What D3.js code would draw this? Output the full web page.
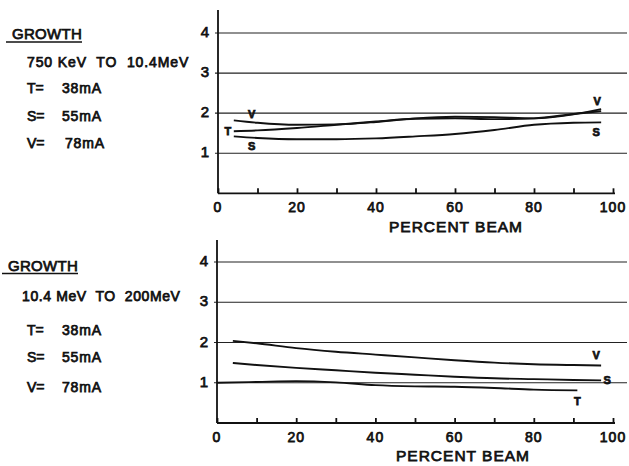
<!DOCTYPE html>
<html>
<head>
<meta charset="utf-8">
<script src="https://cdn.jsdelivr.net/npm/d3@7"></script>
<style>
    body { margin: 0; background: #ffffff; }
    svg { display: block; font-family: "Liberation Sans", Arial, sans-serif; }
    .lbl { fill: #111; stroke: #111; stroke-width: 0.75px; white-space: pre; }
    .grid { stroke: #222; stroke-width: 1.2px; }
    .axis path, .axis line { stroke: #111; stroke-width: 1.8px; }
    .curve { fill: none; stroke: #111; stroke-width: 1.9px; }
</style>
</head>
<body>
<script>
(function () {
    // Percent beam sample points
    var beamTop = [4, 10, 20, 30, 40, 50, 60, 70, 80, 90, 97];
    var beamBottom = [4, 10, 20, 30, 40, 50, 60, 70, 80, 90, 97];
    var beamBottomT = [0, 10, 20, 30, 40, 50, 60, 70, 80, 91];

    // Growth, 750 KeV to 10.4 MeV
    var topV = [1.82, 1.76, 1.71, 1.72, 1.78, 1.87, 1.91, 1.90, 1.87, 1.97, 2.10];
    var topT = [1.55, 1.57, 1.63, 1.71, 1.79, 1.86, 1.87, 1.85, 1.87, 1.98, 2.05];
    var topS = [1.42, 1.38, 1.35, 1.35, 1.37, 1.42, 1.48, 1.58, 1.71, 1.76, 1.77];

    // Growth, 10.4 MeV to 200 MeV
    var bottomV = [2.04, 1.98, 1.86, 1.77, 1.70, 1.63, 1.56, 1.50, 1.46, 1.44, 1.43];
    var bottomS = [1.49, 1.44, 1.37, 1.31, 1.25, 1.20, 1.15, 1.11, 1.09, 1.07, 1.06];
    var bottomT = [1.00, 1.02, 1.04, 1.01, 0.94, 0.91, 0.90, 0.87, 0.83, 0.81];

    // Axis ticks
    var xMinorTicks = [0, 10, 20, 30, 40, 50, 60, 70, 80, 90, 100];
    var xLabelTicks = [0, 20, 40, 60, 80, 100];
    var yTicks = [1, 2, 3, 4];

    // Left-side legend text
    var rangeTop = "750 KeV  TO  10.4MeV";
    var rangeBottom = "10.4 MeV  TO  200MeV";
    var currentNames = ["T=", "S=", "V="];
    var currentValues = ["38mA", "55mA", "78mA"];

    var width = 629, height = 466;

    var svg = d3.select("body")
        .append("svg")
        .attr("width", width)
        .attr("height", height);

    var panels = [
        {
            x0: 218, x1: 613, yZero: 193.3, yFour: 33, yTop: 10,
            range: rangeTop, rangeSpacing: 0.9, textX: 27, growthX: 12, growthY: 39,
            rangeY: 67, rowY: [93, 120.5, 148], valX: [62, 62, 65],
            series: [
                { name: "V", xs: beamTop, ys: topV },
                { name: "T", xs: beamTop, ys: topT },
                { name: "S", xs: beamTop, ys: topS }
            ],
            labels: [
                { t: "V", at: [8.5, 1.76], dx: 0, dy: -5 },
                { t: "T", at: [4, 1.55], dx: -6, dy: 4 },
                { t: "S", at: [8.5, 1.38], dx: 0, dy: 12 },
                { t: "V", at: [97, 2.10], dx: -4, dy: -4 },
                { t: "S", at: [97, 1.77], dx: -5, dy: 14 }
            ],
            titleY: 231.5, titleX: 456
        },
        {
            x0: 217, x1: 613, yZero: 423, yFour: 262, yTop: 240,
            range: rangeBottom, rangeSpacing: 0.6, textX: 22, growthX: 8, growthY: 270.5,
            rangeY: 300.5, rowY: [335, 361.7, 391.5], valX: [62, 62, 62],
            series: [
                { name: "V", xs: beamBottom, ys: bottomV },
                { name: "S", xs: beamBottom, ys: bottomS },
                { name: "T", xs: beamBottomT, ys: bottomT }
            ],
            labels: [
                { t: "V", at: [97, 1.43], dx: -5, dy: -6 },
                { t: "S", at: [97, 1.06], dx: 6, dy: 4 },
                { t: "T", at: [91, 0.81], dx: 0, dy: 15 }
            ],
            titleY: 461, titleX: 463
        }
    ];

    panels.forEach(function (p) {
        drawPanel(p);
    });

    function drawPanel(p) {
        var g = svg.append("g");

        // Scales for this panel
        var x = d3.scaleLinear().domain([0, 100]).range([p.x0, p.x1]);
        var y = d3.scaleLinear().domain([0, 4]).range([p.yZero, p.yFour]);

        // Horizontal grid lines
        g.selectAll(".grid")
            .data(yTicks)
            .enter()
            .append("line")
            .attr("class", "grid")
            .attr("x1", p.x0 - 3)
            .attr("x2", 627)
            .attr("y1", function (d) { return y(d); })
            .attr("y2", function (d) { return y(d); });

        // Y axis line
        g.append("line")
            .attr("x1", p.x0).attr("x2", p.x0)
            .attr("y1", p.yTop)
            .attr("y2", p.yZero)
            .attr("stroke", "#111")
            .attr("stroke-width", 1.8);

        // Y tick labels
        g.selectAll(".ylab")
            .data(yTicks)
            .enter()
            .append("text")
            .attr("class", "lbl")
            .attr("x", p.x0 - 9)
            .attr("y", function (d) { return y(d) + 4; })
            .attr("text-anchor", "end")
            .style("font-size", "15px")
            .text(function (d) { return d; });

        // X axis with inward ticks
        var xAxis = d3.axisBottom(x)
            .tickValues(xMinorTicks)
            .tickSize(-5)
            .tickSizeOuter(0)
            .tickFormat("");
        g.append("g")
            .attr("class", "axis")
            .attr("transform", "translate(0," + p.yZero + ")")
            .call(xAxis)
            .select(".domain")
            .attr("d", "M" + p.x0 + ",0H" + (p.x1 + 2));

        // X tick labels
        g.selectAll(".xlab")
            .data(xLabelTicks)
            .enter()
            .append("text")
            .attr("class", "lbl")
            .attr("x", function (d) { return x(d); })
            .attr("y", p.yZero + 18.5)
            .attr("text-anchor", "middle")
            .style("font-size", "14px")
            .style("letter-spacing", "1px")
            .text(function (d) { return d; });

        // Axis title
        g.append("text")
            .attr("class", "lbl")
            .attr("x", p.titleX)
            .attr("y", p.titleY)
            .attr("text-anchor", "middle")
            .style("font-size", "15.5px")
            .style("letter-spacing", "1px")
            .text("PERCENT BEAM");

        // Growth curves
        var line = d3.line()
            .x(function (d) { return x(d[0]); })
            .y(function (d) { return y(d[1]); })
            .curve(d3.curveMonotoneX);

        p.series.forEach(function (s) {
            g.append("path")
                .attr("class", "curve")
                .attr("d", line(d3.zip(s.xs, s.ys)));
        });

        // Curve letters
        p.labels.forEach(function (l) {
            g.append("text")
                .attr("class", "lbl")
                .attr("x", x(l.at[0]) + l.dx)
                .attr("y", y(l.at[1]) + l.dy)
                .attr("text-anchor", "middle")
                .style("font-size", "11px")
                .style("font-weight", "bold")
                .text(l.t);
        });

        // Left legend block
        g.append("text")
            .attr("class", "lbl")
            .attr("x", p.growthX)
            .attr("y", p.growthY)
            .style("font-size", "15px")
            .style("letter-spacing", "0.3px")
            .text("GROWTH");

        g.append("line")
            .attr("x1", p.growthX - 6)
            .attr("x2", p.growthX + 70)
            .attr("y1", p.growthY + 3)
            .attr("y2", p.growthY + 3)
            .attr("stroke", "#111")
            .attr("stroke-width", 1.4);

        g.append("text")
            .attr("class", "lbl")
            .attr("x", p.textX)
            .attr("y", p.rangeY)
            .style("font-size", "14px")
            .style("letter-spacing", p.rangeSpacing + "px")
            .text(p.range);

        currentNames.forEach(function (n, i) {
            g.append("text")
                .attr("class", "lbl")
                .attr("x", 27)
                .attr("y", p.rowY[i])
                .style("font-size", "14px")
                .text(n);
            g.append("text")
                .attr("class", "lbl")
                .attr("x", p.valX[i])
                .attr("y", p.rowY[i])
                .style("font-size", "14px")
                .style("letter-spacing", "0.8px")
                .text(currentValues[i]);
        });
    }
})();
</script>
</body>
</html>
